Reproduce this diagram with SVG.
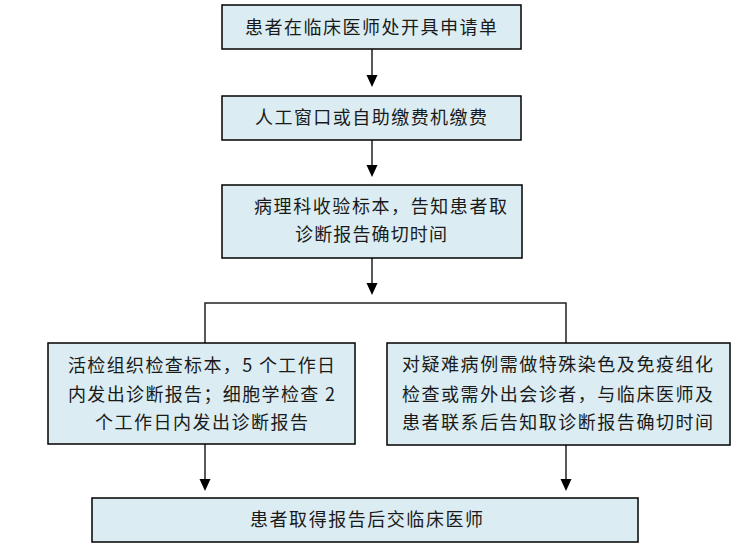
<svg xmlns="http://www.w3.org/2000/svg" width="741" height="551" viewBox="0 0 741 551">
<defs>
<style>
.box{fill:#dbedf3;stroke:#000;stroke-width:1.5}
.t{font-family:"Noto Sans CJK SC","Noto Sans CJK JP",sans-serif;font-size:18px;fill:#1a1a1a}
.c{fill:none;stroke:#222;stroke-width:1.5}
.h{fill:#000}
</style>
</defs>
<rect width="741" height="551" fill="#fff"/>
<g id="connectors">
<line class="c" x1="372" y1="49" x2="372" y2="75"/>
<path class="h" d="M366.5,75 L377.5,75 L372,87 Z"/>
<line class="c" x1="372" y1="140" x2="372" y2="165"/>
<path class="h" d="M366.5,165 L377.5,165 L372,177 Z"/>
<line class="c" x1="372" y1="258" x2="372" y2="283"/>
<path class="h" d="M366.5,283 L377.5,283 L372,295 Z"/>
<polyline class="c" points="205,343 205,303 566,303 566,343"/>
<line class="c" x1="205" y1="444" x2="205" y2="479"/>
<path class="h" d="M199.5,479 L210.5,479 L205,491 Z"/>
<line class="c" x1="566" y1="445" x2="566" y2="479"/>
<path class="h" d="M560.5,479 L571.5,479 L566,491 Z"/>
</g>
<g id="n1">
<rect class="box" x="222" y="5" width="299" height="44"/>
<text class="t" x="245" y="34" textLength="252" lengthAdjust="spacing">患者在临床医师处开具申请单</text>
</g>
<g id="n2">
<rect class="box" x="222" y="96" width="299" height="44"/>
<text class="t" x="255" y="124" textLength="232" lengthAdjust="spacing">人工窗口或自助缴费机缴费</text>
</g>
<g id="n3">
<rect class="box" x="222" y="185" width="300" height="73"/>
<text class="t" x="254" y="213" textLength="253" lengthAdjust="spacing">病理科收验标本，告知患者取</text>
<text class="t" x="295" y="241" textLength="152" lengthAdjust="spacing">诊断报告确切时间</text>
</g>
<g id="n4">
<rect class="box" x="48" y="343" width="307" height="101"/>
<text class="t" x="68" y="372" textLength="267" lengthAdjust="spacing">活检组织检查标本，5 个工作日</text>
<text class="t" x="68" y="401" textLength="267" lengthAdjust="spacing">内发出诊断报告；细胞学检查 2</text>
<text class="t" x="95" y="429" textLength="213" lengthAdjust="spacing">个工作日内发出诊断报告</text>
</g>
<g id="n5">
<rect class="box" x="387" y="343" width="343" height="102"/>
<text class="t" x="402" y="371" textLength="311" lengthAdjust="spacing">对疑难病例需做特殊染色及免疫组化</text>
<text class="t" x="402" y="401" textLength="311" lengthAdjust="spacing">检查或需外出会诊者，与临床医师及</text>
<text class="t" x="402" y="429" textLength="311" lengthAdjust="spacing">患者联系后告知取诊断报告确切时间</text>
</g>
<g id="n6">
<rect class="box" x="92" y="498" width="546" height="44"/>
<text class="t" x="250" y="526" textLength="233" lengthAdjust="spacing">患者取得报告后交临床医师</text>
</g>
</svg>
